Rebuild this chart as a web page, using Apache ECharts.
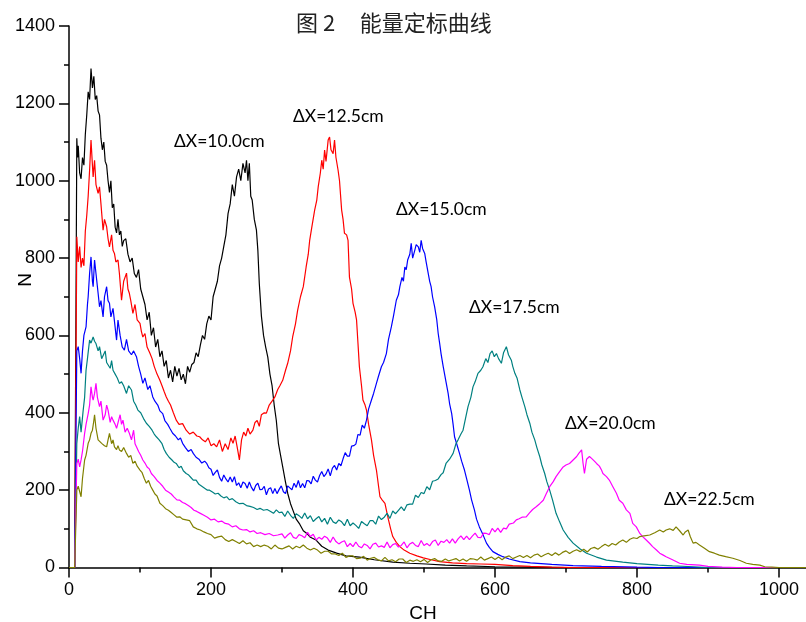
<!DOCTYPE html>
<html>
<head>
<meta charset="utf-8">
<script src="https://cdn.jsdelivr.net/npm/echarts@6/dist/echarts.min.js"></script>
<style>
html,body{margin:0;padding:0;background:#fff;}
#chart{width:806px;height:622px;}
</style>
</head>
<body>
<div id="chart"></div>
<script>
// Tick values
const xTicks = [0, 200, 400, 600, 800, 1000];
const yTicks = [0, 200, 400, 600, 800, 1000, 1200, 1400];
const seriesNames = ['ΔX=10.0cm', 'ΔX=12.5cm', 'ΔX=15.0cm', 'ΔX=17.5cm', 'ΔX=20.0cm', 'ΔX=22.5cm'];

// [channel, counts]
const black = [[0,0],[8,0],[11,1110],[12,1060],[13,1090],[15,1020],[17,1005],[19,1060],[21,1040],[23,1120],[25,1170],[27,1230],[29,1210],[31,1290],[33,1240],[35,1270],[37,1210],[39,1220],[41,1180],[43,1170],[45,1110],[47,1080],[49,1100],[51,1050],[53,1040],[55,1000],[57,970],[59,1000],[61,930],[63,940],[65,880],[67,865],[69,900],[71,860],[73,870],[75,830],[77,845],[80,850],[83,810],[86,790],[89,800],[92,760],[95,750],[98,770],[101,720],[104,700],[107,680],[110,640],[113,660],[116,600],[119,620],[122,570],[125,590],[128,545],[131,560],[134,520],[137,535],[140,490],[143,510],[146,480],[149,520],[152,495],[155,515],[158,485],[161,500],[164,475],[167,520],[170,505],[173,525],[176,530],[179,555],[182,545],[185,575],[188,600],[191,590],[194,630],[197,650],[200,640],[203,700],[206,720],[209,740],[212,780],[215,800],[218,830],[221,860],[224,915],[227,940],[230,990],[233,960],[236,1010],[239,1030],[242,1000],[245,1045],[248,1020],[250,1053],[252,1000],[254,1045],[256,960],[258,950],[261,900],[264,872],[266,820],[268,735],[271,650],[274,600],[277,570],[280,544],[283,500],[286,470],[289,420],[292,380],[295,320],[298,290],[301,260],[305,220],[308,192],[312,165],[316,145],[320,125],[325,112],[330,95],[335,88],[340,78],[348,71],[356,55],[365,45],[377,37],[390,30],[409,27],[430,20],[456,14],[480,11],[503,9],[530,6],[560,4],[600,2],[650,1],[700,0],[1100,0]];

const red = [[0,0],[8,0],[11,855],[13,790],[15,830],[17,776],[19,800],[21,780],[23,870],[25,910],[27,960],[29,1027],[31,1105],[33,1040],[34,1010],[36,1053],[38,990],[41,967],[43,984],[45,940],[48,872],[50,900],[53,881],[55,850],[57,829],[60,860],[62,820],[64,812],[66,790],[69,795],[71,760],[74,691],[77,740],[81,761],[83,720],[85,709],[87,690],[90,657],[93,680],[96,640],[100,631],[102,610],[104,596],[107,605],[110,570],[114,554],[117,540],[120,520],[124,500],[128,484],[131,470],[134,455],[137,441],[140,430],[143,420],[147,400],[151,381],[155,370],[160,372],[165,355],[170,345],[175,350],[180,340],[184,338],[188,330],[192,325],[196,335],[200,315],[204,320],[208,312],[212,330],[216,300],[220,320],[224,305],[228,335],[231,321],[234,340],[237,310],[240,278],[243,330],[246,350],[249,340],[252,360],[255,345],[259,355],[262,375],[265,380],[268,365],[271,395],[275,400],[278,399],[282,420],[286,430],[290,441],[294,460],[297,470],[301,484],[305,510],[308,528],[312,560],[315,596],[319,630],[322,665],[326,700],[330,726],[334,777],[337,810],[339,846],[342,880],[346,924],[349,950],[351,984],[354,1020],[356,1053],[358,1030],[360,1079],[362,1050],[365,1105],[367,1113],[369,1080],[372,1070],[374,1105],[376,1060],[379,1027],[381,1000],[384,924],[386,900],[388,864],[391,860],[393,846],[395,751],[398,720],[400,683],[403,660],[405,640],[407,580],[409,519],[412,470],[414,433],[417,420],[419,407],[422,370],[426,330],[429,290],[433,252],[436,210],[438,183],[441,175],[445,166],[448,140],[450,123],[453,100],[456,80],[461,65],[466,54],[472,45],[480,37],[490,30],[499,25],[510,20],[522,15],[540,12],[560,10],[580,9],[600,8],[625,5],[650,3],[680,1],[710,0],[1100,0]];

const blue = [[0,0],[8,0],[11,560],[13,571],[15,540],[17,502],[19,560],[21,600],[24,622],[26,680],[27,700],[29,760],[31,803],[33,740],[34,726],[36,795],[38,760],[41,709],[43,674],[45,690],[48,648],[50,700],[53,726],[55,690],[57,683],[59,648],[62,670],[64,665],[67,588],[69,640],[72,600],[75,570],[78,562],[81,590],[84,560],[88,550],[91,560],[95,545],[98,520],[101,500],[104,476],[107,490],[111,460],[114,470],[118,441],[121,430],[125,420],[128,405],[132,398],[135,380],[139,370],[142,360],[146,347],[150,340],[154,330],[157,335],[160,321],[164,310],[168,300],[172,305],[175,295],[179,285],[183,280],[187,270],[191,275],[194,269],[197,258],[200,254],[203,238],[206,246],[209,252],[212,233],[215,223],[218,239],[221,229],[224,221],[227,234],[230,221],[233,235],[236,212],[239,219],[242,206],[245,221],[248,217],[251,205],[254,221],[257,207],[260,198],[263,212],[266,218],[269,201],[272,202],[275,210],[278,188],[281,203],[284,206],[287,191],[290,204],[293,191],[296,202],[299,211],[302,196],[305,191],[308,211],[311,206],[314,201],[317,218],[320,207],[323,225],[326,206],[329,217],[332,206],[335,225],[338,224],[341,216],[344,236],[347,226],[350,221],[353,238],[356,248],[359,235],[362,242],[365,255],[368,237],[371,257],[374,264],[377,252],[380,269],[383,263],[386,281],[389,297],[392,288],[395,288],[398,314],[401,315],[404,319],[407,344],[410,342],[413,368],[416,360],[419,381],[422,410],[426,433],[429,450],[433,476],[436,495],[440,519],[443,530],[447,553],[450,590],[454,622],[457,650],[461,691],[464,705],[466,726],[469,750],[471,740],[473,777],[475,770],[477,795],[480,810],[482,838],[484,800],[487,820],[489,835],[492,829],[494,815],[496,846],[498,825],[501,812],[503,790],[506,760],[508,740],[510,726],[512,700],[515,674],[518,640],[520,605],[522,580],[524,553],[527,520],[531,480],[534,450],[536,424],[539,398],[541,370],[543,338],[546,320],[550,295],[553,275],[557,252],[560,230],[564,200],[567,175],[571,149],[574,125],[578,105],[583,85],[588,63],[592,52],[597,41],[604,34],[611,28],[620,22],[635,15],[650,12],[680,8],[710,5],[750,3],[800,1],[830,0],[1100,0]];

const teal = [[0,0],[8,0],[11,321],[13,360],[15,390],[17,350],[20,407],[22,440],[24,510],[26,540],[29,588],[31,580],[34,596],[36,585],[38,579],[41,560],[43,571],[46,540],[48,545],[51,560],[53,530],[55,528],[58,515],[60,535],[62,510],[65,500],[68,490],[71,476],[74,480],[77,470],[81,450],[84,470],[88,459],[91,430],[94,420],[97,407],[101,400],[105,385],[109,373],[113,365],[117,355],[120,345],[123,338],[127,330],[131,320],[134,305],[137,295],[141,285],[145,278],[148,272],[151,269],[155,258],[158,262],[161,250],[165,243],[168,240],[172,232],[175,226],[179,226],[183,215],[187,210],[191,205],[195,200],[198,200],[202,195],[206,190],[210,192],[214,185],[218,180],[222,183],[226,175],[230,178],[235,170],[240,165],[245,166],[250,160],[255,158],[260,155],[265,150],[269,153],[274,148],[279,150],[284,145],[288,140],[292,149],[296,142],[300,143],[304,132],[308,146],[312,135],[316,127],[320,139],[324,134],[328,127],[332,141],[336,126],[340,134],[344,119],[348,126],[352,132],[356,118],[360,127],[364,112],[368,130],[372,118],[376,114],[380,123],[384,118],[388,108],[392,125],[396,108],[400,115],[404,109],[408,101],[412,119],[416,113],[420,108],[424,121],[428,121],[432,112],[436,133],[440,124],[444,130],[448,140],[452,127],[456,146],[460,139],[464,148],[468,157],[472,147],[476,162],[480,164],[484,164],[488,187],[492,181],[496,194],[500,191],[504,209],[508,201],[512,223],[516,225],[520,229],[524,240],[527,245],[531,269],[536,280],[541,295],[545,320],[548,330],[552,345],[555,355],[559,390],[562,416],[566,440],[569,467],[572,480],[576,502],[580,510],[583,519],[587,540],[590,530],[593,553],[596,560],[599,545],[602,553],[605,540],[609,528],[612,555],[616,571],[619,550],[623,536],[625,520],[628,502],[631,490],[635,459],[638,440],[642,416],[645,395],[649,373],[652,350],[656,330],[659,310],[663,287],[666,265],[670,243],[673,222],[677,200],[681,175],[686,140],[691,118],[696,97],[703,78],[710,63],[720,48],[729,37],[743,27],[757,19],[780,14],[800,10],[830,6],[850,4],[880,2],[900,0],[1100,0]];

const magenta = [[0,0],[8,0],[11,269],[13,280],[15,260],[17,278],[19,300],[22,347],[24,370],[27,398],[29,420],[31,467],[33,440],[34,433],[36,450],[38,476],[40,440],[43,416],[45,430],[48,381],[51,395],[53,420],[55,407],[58,375],[60,390],[62,381],[65,370],[67,360],[69,355],[72,395],[74,370],[76,381],[79,350],[82,360],[85,347],[88,330],[91,355],[93,320],[95,312],[98,300],[101,290],[104,278],[107,270],[110,260],[113,255],[116,243],[120,235],[124,225],[128,218],[132,210],[136,200],[140,195],[144,190],[148,182],[152,175],[156,174],[160,168],[164,165],[168,160],[172,155],[176,148],[180,145],[185,140],[190,135],[195,130],[200,123],[205,125],[210,118],[215,120],[220,114],[225,112],[230,105],[235,108],[240,100],[245,97],[250,98],[255,92],[260,95],[265,88],[270,90],[276,85],[282,88],[288,82],[294,84],[300,87],[304,76],[308,84],[312,90],[316,78],[320,75],[324,85],[328,82],[332,77],[336,91],[340,80],[344,86],[348,71],[352,78],[356,73],[360,81],[364,76],[368,65],[372,79],[376,67],[380,61],[384,66],[388,69],[392,54],[396,62],[400,54],[404,66],[408,55],[412,51],[416,61],[420,57],[424,48],[428,60],[432,63],[436,53],[440,56],[444,52],[448,66],[452,51],[456,59],[460,62],[464,53],[468,57],[472,66],[476,51],[480,61],[484,65],[488,57],[492,54],[496,70],[500,57],[504,62],[508,56],[512,67],[516,71],[520,57],[524,68],[528,65],[532,72],[536,63],[540,74],[544,63],[548,74],[552,82],[556,72],[560,81],[564,72],[568,81],[572,89],[576,78],[580,77],[584,89],[588,88],[592,85],[596,101],[600,92],[604,102],[608,91],[612,102],[616,100],[620,112],[626,115],[630,123],[634,126],[638,130],[644,131],[648,140],[653,150],[658,157],[663,165],[668,174],[672,190],[677,209],[682,222],[686,235],[691,248],[696,260],[700,265],[705,269],[710,278],[715,287],[718,295],[722,304],[724,270],[726,243],[729,280],[733,287],[736,282],[740,275],[743,269],[747,262],[750,252],[752,243],[757,235],[761,226],[766,209],[771,192],[775,174],[780,166],[785,149],[790,140],[794,114],[799,105],[804,88],[808,80],[813,71],[818,62],[822,54],[827,46],[832,37],[837,32],[841,28],[850,20],[860,11],[870,8],[888,6],[900,3],[920,1],[940,0],[1100,0]];

const olive = [[0,0],[8,0],[11,200],[13,210],[15,209],[17,183],[19,230],[22,278],[24,290],[27,321],[29,330],[31,347],[33,355],[35,380],[36,395],[38,360],[41,330],[43,325],[46,321],[48,318],[50,315],[53,312],[55,330],[57,347],[60,320],[62,330],[64,312],[67,305],[69,315],[71,304],[74,300],[77,310],[81,295],[84,285],[87,290],[90,269],[93,275],[96,262],[100,252],[103,245],[106,230],[109,218],[112,225],[115,210],[118,200],[121,190],[124,185],[128,166],[132,160],[136,152],[140,148],[144,142],[148,136],[152,130],[156,131],[160,125],[165,123],[170,121],[175,105],[180,100],[185,97],[190,92],[195,88],[200,85],[205,76],[210,79],[215,81],[220,72],[225,67],[230,72],[235,67],[240,62],[245,69],[250,61],[255,64],[260,54],[265,58],[270,54],[275,58],[280,55],[285,48],[290,58],[295,50],[300,48],[305,52],[310,56],[315,48],[320,55],[325,51],[330,58],[335,50],[340,45],[345,50],[350,45],[355,37],[360,42],[365,42],[370,35],[375,35],[380,31],[385,37],[390,26],[395,30],[400,30],[405,23],[410,24],[415,29],[420,19],[425,24],[430,26],[435,20],[440,17],[445,26],[450,17],[455,20],[460,15],[465,22],[470,22],[475,13],[480,19],[485,16],[490,20],[495,15],[500,21],[505,13],[510,20],[515,23],[520,17],[525,16],[530,22],[535,17],[540,20],[545,23],[550,17],[555,22],[560,16],[565,23],[570,22],[575,19],[580,27],[585,19],[590,23],[595,27],[600,21],[605,27],[610,20],[615,27],[620,30],[625,23],[630,27],[635,31],[640,26],[645,31],[650,25],[655,32],[660,35],[665,28],[670,33],[675,37],[680,31],[685,38],[690,32],[695,39],[700,43],[705,36],[710,42],[715,46],[720,41],[725,47],[730,40],[735,49],[740,52],[745,47],[750,54],[755,60],[760,55],[765,62],[770,58],[775,66],[780,71],[785,65],[790,73],[795,77],[800,75],[804,80],[810,82],[818,84],[825,90],[832,97],[837,92],[841,97],[846,100],[851,96],[855,105],[860,95],[865,84],[868,92],[872,97],[875,80],[879,63],[883,65],[888,58],[895,50],[902,41],[909,37],[916,32],[925,28],[935,24],[945,18],[954,11],[963,8],[973,6],[980,2],[990,1],[1000,0],[1100,0]];

const seriesData = [black, red, blue, teal, magenta, olive];
const colors = ['#000000', '#ff0000', '#0000ff', '#008080', '#ff00ff', '#808000'];

const chart = echarts.init(document.getElementById('chart'), null, {renderer: 'canvas'});

const labelFont = '"Liberation Sans", Arial, sans-serif';
const annFont = 'Lato, "Open Sans", sans-serif';

const annotations = [
  {text: seriesNames[0], x: 174, y: 141},
  {text: seriesNames[1], x: 293, y: 116},
  {text: seriesNames[2], x: 396, y: 209},
  {text: seriesNames[3], x: 469, y: 307},
  {text: seriesNames[4], x: 565, y: 423},
  {text: seriesNames[5], x: 664, y: 499}
];

const option = {
  animation: false,
  backgroundColor: '#ffffff',
  title: {
    text: '图 2     能量定标曲线',
    left: 296,
    top: 12,
    padding: 0,
    textStyle: {fontFamily: '"Noto Sans CJK SC"', fontSize: 22, fontWeight: 'normal', color: '#222'}
  },
  grid: {left: 69, width: 781, top: 26, bottom: 54.5, containLabel: false, outerBoundsMode: 'none'},
  xAxis: {
    type: 'value', min: 0, max: 1100, interval: 200,
    axisLine: {show: true, onZero: false, lineStyle: {color: '#000', width: 1.5}},
    axisTick: {show: true, inside: false, length: 10, lineStyle: {color: '#000', width: 1.5}},
    minorTick: {show: true, splitNumber: 2, length: 5, lineStyle: {color: '#000', width: 1.5}},
    splitLine: {show: false},
    axisLabel: {
      color: '#000', fontSize: 18, fontFamily: labelFont, margin: 14, showMaxLabel: false,
      formatter: v => (xTicks.indexOf(v) >= 0 ? String(v) : '')
    }
  },
  yAxis: {
    type: 'value', min: 0, max: 1400, interval: 200,
    axisLine: {show: true, onZero: false, lineStyle: {color: '#000', width: 1.5}},
    axisTick: {show: true, inside: false, length: 10, lineStyle: {color: '#000', width: 1.5}},
    minorTick: {show: true, splitNumber: 2, length: 5, lineStyle: {color: '#000', width: 1.5}},
    splitLine: {show: false},
    axisLabel: {
      color: '#000', fontSize: 18, fontFamily: labelFont, margin: 14,
      formatter: v => (yTicks.indexOf(v) >= 0 ? String(v) : '')
    }
  },
  graphic: [
    {type: 'text', x: 423, y: 614, style: {text: 'CH', fill: '#000', font: '19px "Liberation Sans", Arial, sans-serif', textAlign: 'center', textVerticalAlign: 'middle', align: 'center', verticalAlign: 'middle'}},
    {type: 'text', x: 26, y: 280, rotation: Math.PI / 2, style: {text: 'N', fill: '#000', font: '19px "Liberation Sans", Arial, sans-serif', textAlign: 'center', textVerticalAlign: 'middle', align: 'center', verticalAlign: 'middle'}}
  ].concat(annotations.map(a => ({
    type: 'text', x: a.x, y: a.y,
    style: {text: a.text, fill: '#000', font: '17.5px ' + annFont, textAlign: 'left', textVerticalAlign: 'middle', align: 'left', verticalAlign: 'middle'}
  }))),
  series: seriesData.map((d, i) => ({
    name: seriesNames[i],
    type: 'line',
    data: d,
    showSymbol: false,
    symbol: 'none',
    clip: true,
    lineStyle: {color: colors[i], width: 1.2},
    itemStyle: {color: colors[i]},
    z: 2 + i
  }))
};

chart.setOption(option);
</script>
</body>
</html>
